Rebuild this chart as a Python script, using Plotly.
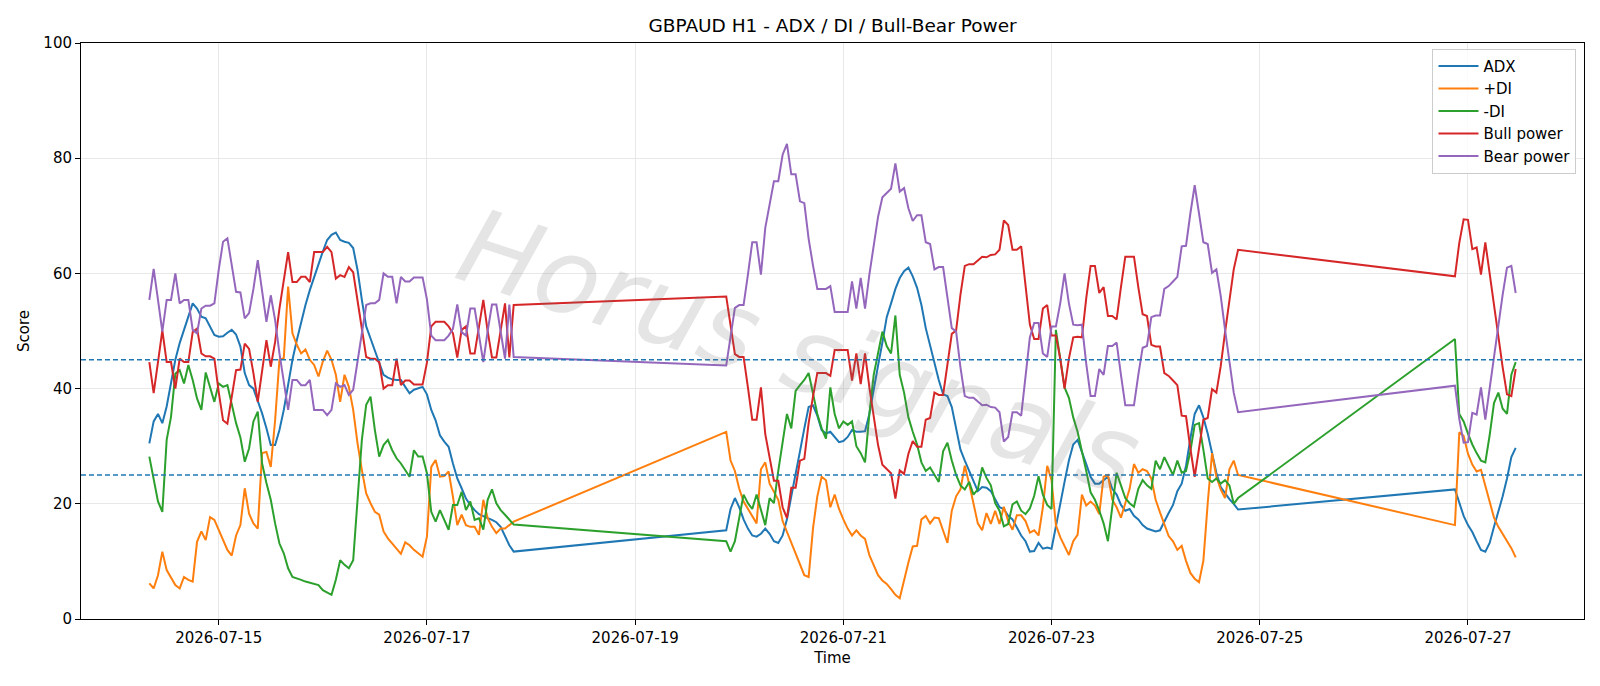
import pandas as pd
import plotly.graph_objects as go

# ---------------- data ----------------
seg_starts = ["2026-07-14 08:00", "2026-07-19 21:00", "2026-07-26 21:00"]
seg_lengths = [85, 119, 15]

adx_1 = [30.5, 34.3, 35.6, 34.0, 36.9, 40.9, 45.0, 47.9, 50.2, 52.5,
         54.8, 53.9, 52.5, 52.2, 50.8, 49.3, 49.0, 49.1, 49.7, 50.2,
         49.4, 47.3, 42.7, 40.6, 40.0, 38.0, 35.7, 33.1, 30.2, 30.2,
         32.8, 36.3, 40.9, 45.0, 48.4, 51.6, 54.5, 57.1, 59.4, 61.7,
         63.8, 65.8, 66.7, 67.1, 65.8, 65.5, 65.3, 64.4, 60.6, 55.4,
         50.8, 48.7, 46.7, 44.4, 42.4, 41.9, 41.6, 41.5, 41.5, 40.3,
         39.2, 39.8, 40.0, 40.3, 39.0, 36.3, 34.5, 31.9, 30.8, 29.9,
         27.0, 24.4, 22.7, 20.9, 19.8, 18.9, 18.2, 17.8, 17.5, 17.2,
         16.8, 16.0, 14.5, 12.8, 11.7]
adx_2 = [15.4, 19.1, 21.0, 19.4, 17.3, 15.7, 14.5, 14.3, 14.8, 15.7,
         14.8, 13.5, 13.2, 14.5, 17.3, 21.3, 25.0, 29.1, 33.1, 36.8,
         37.1, 35.3, 32.8, 32.2, 32.5, 31.6, 30.7, 30.9, 31.6, 32.8,
         32.5, 32.5, 32.6, 35.6, 40.0, 44.0, 48.0, 52.4, 54.8, 57.3,
         59.2, 60.4, 61.0, 59.5, 57.5, 54.5, 50.5, 47.4, 44.6, 41.5,
         39.0, 38.7, 36.8, 32.8, 29.4, 27.5, 25.7, 23.8, 22.2, 22.9,
         22.8, 22.2, 20.7, 19.4, 19.1, 17.9, 17.3, 16.0, 14.5, 13.5,
         11.7, 11.8, 13.2, 12.2, 12.4, 12.2, 16.3, 19.7, 23.8, 27.5,
         30.3, 31.1, 28.8, 26.9, 24.7, 23.5, 23.5, 24.1, 24.7, 22.6,
         21.6, 19.8, 18.8, 19.1, 17.9, 17.3, 16.3, 15.7, 15.4, 15.2,
         15.4, 17.0, 18.4, 19.8, 22.2, 23.5, 26.6, 31.3, 35.6, 37.1,
         35.0, 32.2, 28.8, 25.4, 22.9, 21.8, 20.8, 20.0, 19.0]
adx_3 = [22.5, 20.0, 17.9, 16.3, 15.1, 13.5, 12.0, 11.7, 13.2, 16.0,
         18.5, 21.3, 24.4, 28.1, 29.7]

pdi_1 = [6.2, 5.3, 7.6, 11.7, 8.5, 7.1, 5.9, 5.3, 7.3, 6.8,
         6.5, 13.4, 15.2, 13.7, 17.7, 17.2, 15.5, 13.5, 12.0, 11.0,
         14.5, 16.3, 22.7, 18.3, 16.6, 15.7, 28.8, 29.0, 26.4, 34.5,
         45.0, 45.3, 57.7, 49.6, 47.6, 46.1, 46.8, 45.0, 44.1, 42.1,
         44.7, 46.6, 45.0, 42.4, 37.7, 42.4, 40.3, 36.3, 30.5, 25.9,
         21.8, 20.1, 18.6, 18.1, 15.2, 14.0, 13.1, 12.3, 11.3, 13.3,
         12.8, 12.0, 11.4, 10.8, 14.3, 26.4, 27.6, 24.7, 24.8, 25.6,
         21.2, 16.3, 18.1, 16.3, 16.0, 16.0, 14.6, 20.7, 17.5, 16.0,
         14.9, 15.7, 15.7, 16.3, 16.9]
pdi_2 = [32.5, 27.5, 25.7, 22.6, 20.4, 19.1, 17.9, 16.6, 26.0, 27.2,
         23.5, 22.2, 20.7, 17.0, 15.1, 13.2, 11.4, 9.5, 7.6, 7.3,
         15.7, 21.3, 24.7, 24.1, 19.4, 21.6, 19.1, 17.3, 15.7, 14.5,
         15.4, 14.5, 13.9, 11.1, 9.2, 7.6, 6.7, 6.1, 5.2, 4.2,
         3.6, 6.8, 9.8, 12.6, 12.7, 17.3, 17.9, 16.6, 17.6, 17.5,
         15.4, 13.2, 18.8, 21.3, 22.5, 26.6, 23.5, 19.8, 16.6, 15.4,
         18.4, 16.5, 18.8, 16.5, 19.5, 17.0, 15.5, 18.0, 18.0, 17.0,
         15.0, 15.4, 14.5, 19.4, 26.6, 24.1, 16.3, 14.2, 12.6, 11.1,
         13.5, 14.6, 21.6, 19.7, 20.4, 19.7, 18.2, 24.7, 25.0, 20.7,
         19.4, 17.6, 20.1, 22.6, 26.9, 25.4, 26.0, 25.7, 24.4, 20.7,
         18.5, 16.3, 14.4, 13.5, 12.0, 12.7, 10.1, 8.0, 7.0, 6.4,
         10.1, 20.1, 28.8, 24.7, 22.5, 21.0, 26.0, 27.5, 25.0]
pdi_3 = [16.3, 32.4, 31.8, 28.7, 26.8, 25.6, 25.9, 23.1, 20.7, 17.6,
         16.0, 14.8, 13.5, 12.3, 10.7]

mdi_1 = [28.2, 24.1, 20.4, 18.6, 31.1, 35.1, 42.6, 43.2, 40.9, 44.1,
         41.5, 38.3, 36.3, 42.8, 40.3, 37.7, 40.9, 40.3, 40.6, 37.4,
         34.0, 31.5, 27.3, 29.6, 34.3, 36.0, 27.0, 23.6, 20.7, 16.6,
         13.1, 11.4, 8.8, 7.3, 7.1, 6.8, 6.5, 6.3, 6.2, 5.9,
         5.0, 4.6, 4.2, 6.8, 10.2, 9.4, 8.8, 10.2, 20.1, 31.1,
         37.2, 38.6, 32.8, 28.2, 30.2, 31.1, 29.3, 27.9, 27.0, 25.9,
         24.7, 29.3, 28.2, 28.2, 25.3, 18.6, 16.9, 18.9, 17.2, 15.5,
         19.8, 19.8, 22.1, 18.9, 20.4, 17.2, 17.5, 15.5, 20.7, 22.5,
         20.1, 18.9, 18.1, 17.2, 16.4]
mdi_2 = [13.5, 11.7, 13.5, 17.6, 21.6, 20.1, 19.1, 21.6, 18.8, 16.3,
         21.0, 20.1, 25.7, 30.6, 35.6, 33.1, 39.6, 40.6, 41.5, 42.7,
         39.3, 35.6, 33.1, 31.3, 40.2, 35.6, 33.1, 34.3, 33.7, 34.3,
         30.0, 28.8, 27.2, 35.6, 42.4, 46.1, 49.9, 47.4, 46.1, 52.7,
         42.4, 39.3, 35.0, 32.5, 30.3, 27.2, 25.7, 26.3, 25.0, 23.8,
         29.1, 30.6, 27.5, 25.0, 23.2, 22.5, 23.8, 21.6, 22.5, 26.3,
         24.5, 23.2, 20.1, 18.8, 16.1, 16.5, 19.9, 20.4, 18.8, 18.2,
         19.2, 21.4, 24.8, 21.6, 19.8, 19.1, 50.2, 45.5, 40.2, 38.4,
         35.0, 32.5, 29.2, 25.7, 22.0, 20.7, 18.8, 16.6, 13.5, 19.1,
         25.4, 23.2, 21.0, 20.1, 19.5, 22.6, 24.1, 23.2, 22.6, 27.5,
         26.0, 28.1, 26.6, 25.0, 27.5, 25.4, 25.7, 29.1, 33.7, 34.0,
         29.4, 24.4, 23.8, 24.4, 23.5, 24.1, 23.2, 20.0, 21.0]
mdi_3 = [48.6, 35.6, 34.3, 32.2, 30.3, 28.8, 27.5, 27.2, 31.9, 37.5,
         39.3, 36.5, 35.6, 42.4, 44.6]

bull_1 = [44.6, 39.2, 44.6, 50.1, 44.6, 44.6, 40.0, 45.2, 44.6, 44.6,
          49.8, 50.4, 46.1, 45.6, 45.6, 45.2, 39.4, 34.5, 33.9, 38.8,
          43.2, 43.3, 47.8, 46.9, 42.7, 37.7, 42.9, 48.4, 43.8, 48.1,
          53.9, 59.1, 63.7, 58.5, 58.5, 59.4, 59.4, 58.5, 63.7, 63.7,
          63.7, 64.6, 63.7, 59.1, 59.7, 59.4, 61.1, 60.2, 55.0, 49.8,
          45.5, 45.2, 45.2, 44.6, 40.0, 40.6, 40.6, 45.2, 40.6, 41.4,
          41.4, 40.7, 40.7, 40.7, 44.5, 50.8, 51.6, 51.6, 51.6, 50.8,
          49.6, 45.4, 50.2, 50.8, 46.1, 46.1, 50.5, 55.4, 50.0, 45.4,
          45.4, 50.0, 54.8, 45.4, 54.5]
bull_2 = [56.0, 50.7, 46.0, 45.5, 45.5, 40.2, 34.6, 34.6, 40.2, 32.1,
          27.8, 24.0, 24.0, 19.4, 17.5, 22.8, 22.8, 27.5, 27.8, 34.0,
          38.6, 42.7, 42.7, 42.7, 42.2, 46.7, 46.7, 46.7, 46.7, 41.4,
          46.1, 40.8, 46.1, 40.2, 35.2, 30.2, 26.8, 26.0, 25.3, 20.9,
          25.8, 25.2, 28.7, 30.9, 29.9, 29.9, 34.6, 34.9, 39.3, 38.9,
          38.9, 44.2, 49.5, 50.1, 56.3, 61.3, 61.6, 61.6, 62.2, 62.9,
          62.8, 63.2, 63.3, 64.1, 69.2, 68.4, 64.1, 64.1, 64.7, 57.6,
          51.1, 48.6, 48.6, 53.9, 54.5, 49.2, 49.2, 45.2, 40.0, 45.2,
          48.9, 49.0, 48.9, 55.7, 61.3, 61.3, 56.6, 57.6, 52.6, 52.6,
          52.0, 57.6, 62.9, 62.9, 62.9, 57.6, 52.9, 52.6, 47.6, 47.3,
          47.3, 42.7, 42.2, 41.4, 40.6, 35.3, 35.2, 29.6, 24.7, 29.6,
          34.6, 34.9, 39.9, 39.3, 43.9, 49.8, 55.7, 60.7, 64.1]
bull_3 = [59.5, 65.3, 69.4, 69.3, 64.2, 64.5, 59.8, 65.4, 59.8, 54.2,
          48.9, 43.7, 39.0, 38.7, 43.4]

bear_1 = [55.4, 60.8, 55.4, 49.9, 55.4, 55.4, 60.0, 54.8, 55.4, 55.4,
          50.2, 49.6, 53.9, 54.4, 54.4, 54.8, 60.6, 65.5, 66.1, 61.2,
          56.8, 56.7, 52.2, 53.1, 57.3, 62.3, 57.1, 51.6, 56.2, 51.9,
          46.1, 40.9, 36.3, 41.5, 41.5, 40.6, 40.6, 41.5, 36.3, 36.3,
          36.3, 35.4, 36.3, 40.9, 40.3, 40.6, 38.9, 39.8, 45.0, 50.2,
          54.5, 54.8, 54.8, 55.4, 60.0, 59.4, 59.4, 54.8, 59.4, 58.6,
          58.6, 59.3, 59.3, 59.3, 55.5, 49.2, 48.4, 48.4, 48.4, 49.2,
          50.4, 54.6, 49.8, 49.2, 53.9, 53.9, 49.5, 44.6, 50.0, 54.6,
          54.6, 50.0, 45.2, 54.6, 45.5]
bear_2 = [44.0, 49.3, 54.0, 54.5, 54.5, 59.8, 65.4, 65.4, 59.8, 67.9,
          72.2, 76.0, 76.0, 80.6, 82.5, 77.2, 77.2, 72.5, 72.2, 66.0,
          61.4, 57.3, 57.3, 57.3, 57.8, 53.3, 53.3, 53.3, 53.3, 58.6,
          53.9, 59.2, 53.9, 59.8, 64.8, 69.8, 73.2, 74.0, 74.7, 79.1,
          74.2, 74.8, 71.3, 69.1, 70.1, 70.1, 65.4, 65.1, 60.7, 61.1,
          61.1, 55.8, 50.5, 49.9, 43.7, 38.7, 38.4, 38.4, 37.8, 37.1,
          37.2, 36.8, 36.7, 35.9, 30.8, 31.6, 35.9, 35.9, 35.3, 42.4,
          48.9, 51.4, 51.4, 46.1, 45.5, 50.8, 50.8, 54.8, 60.0, 54.8,
          51.1, 51.0, 51.1, 44.3, 38.7, 38.7, 43.4, 42.4, 47.4, 47.4,
          48.0, 42.4, 37.1, 37.1, 37.1, 42.4, 47.1, 47.4, 52.4, 52.7,
          52.7, 57.3, 57.8, 58.6, 59.4, 64.7, 64.8, 70.4, 75.3, 70.4,
          65.4, 65.1, 60.1, 60.7, 56.1, 50.2, 44.3, 39.3, 35.9]
bear_3 = [40.5, 34.7, 30.6, 30.7, 35.8, 35.5, 40.2, 34.6, 40.2, 45.8,
          51.1, 56.3, 61.0, 61.3, 56.6]

thresholds = [25, 45]
y_ticks = [0, 20, 40, 60, 80, 100]

series_names = ["ADX", "+DI", "-DI", "Bull power", "Bear power"]
series_colors = ["#1f77b4", "#ff7f0e", "#2ca02c", "#d62728", "#9467bd"]

# ---------------- build ----------------
times = []
for s, n in zip(seg_starts, seg_lengths):
    times += list(pd.date_range(s, periods=n, freq="h"))

series_values = [
    adx_1 + adx_2 + adx_3,
    pdi_1 + pdi_2 + pdi_3,
    mdi_1 + mdi_2 + mdi_3,
    bull_1 + bull_2 + bull_3,
    bear_1 + bear_2 + bear_3,
]

FONT = "DejaVu Sans"
fig = go.Figure()
for name, color, vals in zip(series_names, series_colors, series_values):
    fig.add_trace(go.Scatter(x=times, y=vals, mode="lines", name=name,
                             line=dict(color=color, width=2)))

for t in thresholds:
    fig.add_shape(type="line", xref="paper", x0=0, x1=1, yref="y", y0=t, y1=t,
                  line=dict(color="#1f77b4", width=1.4, dash="5px,3px"))

fig.add_annotation(text="<i>Horus signals</i>", xref="paper", yref="paper",
                   x=0.478, y=0.464, showarrow=False, textangle=18,
                   font=dict(family=FONT, size=105, weight=200,
                             color="rgba(110,110,110,0.18)"))

fig.update_layout(
    width=1600, height=686,
    margin=dict(l=81, r=16, t=43, b=67),
    paper_bgcolor="white", plot_bgcolor="white",
    font=dict(family=FONT, size=15, color="black"),
    title=dict(text="GBPAUD H1 - ADX / DI / Bull-Bear Power", x=0.5, xref="paper",
               y=1 - 25.5 / 686, yref="container", yanchor="middle",
               font=dict(family=FONT, size=18.5, color="black")),
    legend=dict(x=0.995, xanchor="right", y=0.99, yanchor="top",
                bgcolor="rgba(255,255,255,0.8)", bordercolor="#cccccc", borderwidth=1,
                font=dict(family=FONT, size=15), tracegroupgap=0, itemwidth=40),
    showlegend=True,
)
fig.update_xaxes(
    type="date", range=["2026-07-13 16:15", "2026-07-28 02:45"],
    tick0="2026-07-15", dtick=2 * 86400000, tickformat="%Y-%m-%d",
    showline=True, linecolor="black", linewidth=1, mirror=True,
    ticks="outside", ticklen=5, tickcolor="black",
    showgrid=True, gridcolor="#e8e8e8", gridwidth=1, zeroline=False,
    title=dict(text="Time", font=dict(family=FONT, size=15), standoff=6),
    tickfont=dict(family=FONT, size=15),
)
fig.update_yaxes(
    range=[0, 100], tickvals=y_ticks,
    showline=True, linecolor="black", linewidth=1, mirror=True,
    ticks="outside", ticklen=5, tickcolor="black",
    showgrid=True, gridcolor="#e8e8e8", gridwidth=1, zeroline=False,
    title=dict(text="Score", font=dict(family=FONT, size=15), standoff=10),
    tickfont=dict(family=FONT, size=15),
)

fig.write_html("out.html")
